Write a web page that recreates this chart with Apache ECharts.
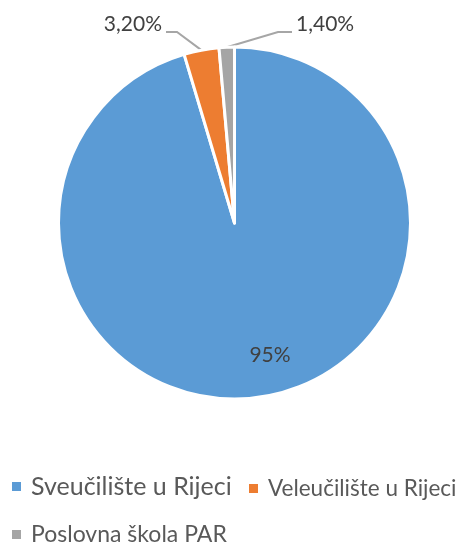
<!DOCTYPE html>
<html>
<head>
<meta charset="utf-8">
<script src="https://cdn.jsdelivr.net/npm/echarts@6/dist/echarts.min.js"></script>
<style>
  html, body { margin: 0; padding: 0; background: #fff; }
  #main { width: 460px; height: 545px; }
</style>
</head>
<body>
<div id="main"></div>
<script>
// podaci
var names = ['Sveučilište u Rijeci', 'Veleučilište u Rijeci', 'Poslovna škola PAR'];
var values = [95, 3.2, 1.4];
var labels = ['95%', '3,20%', '1,40%'];
var colors = ['#5B9BD5', '#ED7D31', '#A5A5A5'];

var chart = echarts.init(document.getElementById('main'));
var font = 'Lato';

var pieData = [];
for (var i = 0; i < names.length; i++) {
  pieData.push({ name: names[i], value: values[i], itemStyle: { color: colors[i] } });
}

function legendAt(name, left, top, size) {
  return {
    data: [name],
    left: left,
    top: top,
    icon: 'rect',
    itemWidth: 11,
    itemHeight: 11,
    itemGap: 0,
    textStyle: { fontFamily: font, fontSize: size, color: '#595959', padding: [0, 0, 0, 4] }
  };
}

var option = {
  animation: false,
  legend: [
    legendAt(names[0], 5, 469, 25),
    legendAt(names[1], 242, 472, 22.5),
    legendAt(names[2], 5, 518, 23)
  ],
  series: [{
    type: 'pie',
    center: [234.5, 223],
    radius: [0, 176],
    startAngle: 90,
    clockwise: true,
    data: pieData,
    itemStyle: { borderColor: '#fff', borderWidth: 3 },
    label: {
      show: true,
      position: 'outside',
      fontFamily: font,
      fontSize: 21,
      color: '#404040',
      formatter: function (p) { return labels[p.dataIndex]; }
    },
    labelLine: { show: true, lineStyle: { color: '#A6A6A6', width: 2 } },
    labelLayout: function (p) {
      var s = p.labelLinePoints ? p.labelLinePoints[0] : null;
      if (p.dataIndex === 0) {
        return { x: 270, y: 355, align: 'center', verticalAlign: 'middle' };
      }
      if (p.dataIndex === 1) {
        return {
          x: 162, y: 24, align: 'right', verticalAlign: 'middle',
          labelLinePoints: [s, [177, 32], [166, 32]]
        };
      }
      return {
        x: 296, y: 24, align: 'left', verticalAlign: 'middle',
        labelLinePoints: [s, [278, 32], [292, 32]]
      };
    }
  }]
};
option.series[0].data[0].labelLine = { show: false };

chart.setOption(option);
</script>
</body>
</html>
